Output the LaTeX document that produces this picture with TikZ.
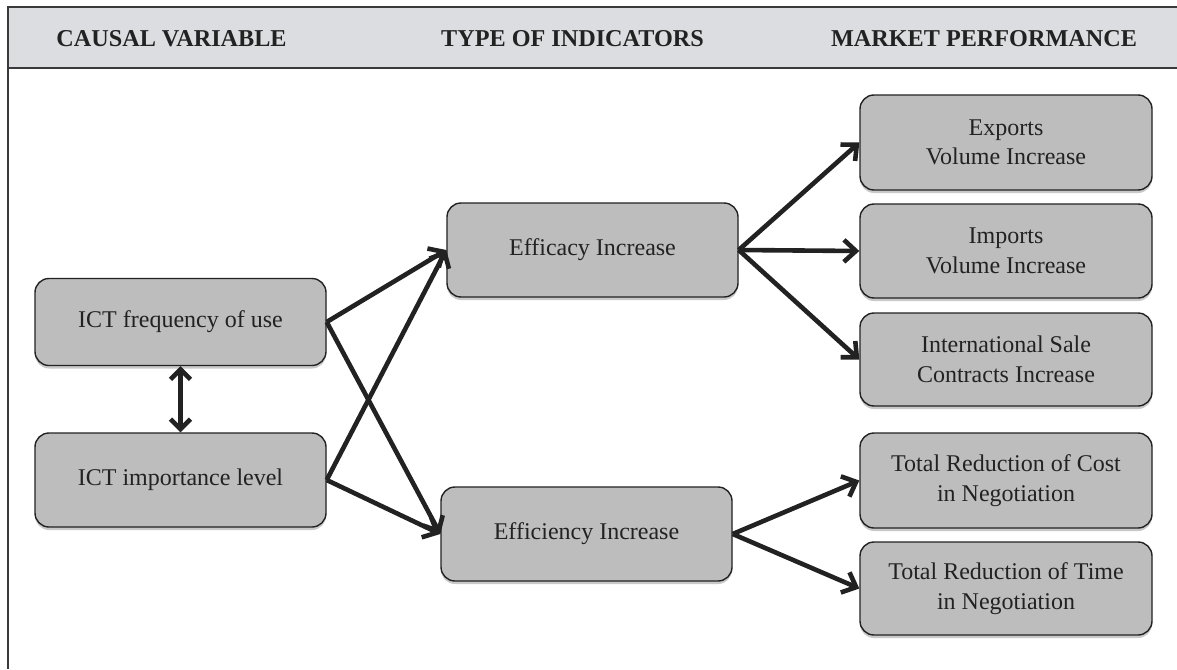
\documentclass[tikz,border=0pt]{standalone}
\usepackage{fontspec}
\setmainfont{Liberation Serif}
\usetikzlibrary{arrows.meta,shadows}
\definecolor{hdrfill}{HTML}{DCDDE0}
\definecolor{boxfill}{HTML}{BDBDBD}
\definecolor{ink}{HTML}{222222}
\definecolor{framecol}{HTML}{3A3A3A}
\begin{document}
\begin{tikzpicture}[x=1pt,y=-1pt,
  box/.style={draw=ink, line width=1.4pt, fill=boxfill, rounded corners=14pt,
    align=center, inner sep=0pt, text=ink,
    font=\fontsize{24}{29.5}\selectfont,
    drop shadow={shadow xshift=0pt, shadow yshift=-3pt, opacity=0.35, fill=black!60}},
  hdr/.style={font=\fontsize{24.2}{28}\selectfont\bfseries, text=ink, inner sep=0pt},
  conn/.style={draw=ink, line width=4.6pt, -{Straight Barb[length=12pt,width=22pt]}},
  dconn/.style={draw=ink, line width=4.6pt, {Straight Barb[length=10pt,width=20pt]}-{Straight Barb[length=10pt,width=20pt]}}
]
\useasboundingbox (0,0) rectangle (1177,669);
\fill[white] (0,0) rectangle (1177,669);
% header band and frame
\fill[hdrfill] (8,7) rectangle (1177,68);
\draw[framecol, line width=1.5pt] (1177,7) -- (8,7) -- (8,669);
\draw[framecol, line width=1.5pt] (8,68) -- (1177,68);
\node[hdr] (h1) at (171.5,39) {CAUSAL VARIABLE};
\node[hdr] (h2) at (572.5,39) {TYPE OF INDICATORS};
\node[hdr] (h3) at (984,39) {MARKET PERFORMANCE};
% boxes
\node[box, minimum width=291pt, minimum height=87pt] (freq) at (180.5,322) {ICT frequency of use};
\node[box, minimum width=291pt, minimum height=94pt] (imp) at (180.5,480) {ICT importance level};
\node[box, minimum width=291pt, minimum height=94pt] (efficacy) at (592.5,250) {Efficacy Increase};
\node[box, minimum width=291pt, minimum height=94pt] (efficiency) at (586.5,534) {Efficiency Increase};
\node[box, minimum width=292pt, minimum height=95pt] (exports) at (1006,142.5) {Exports\\Volume Increase};
\node[box, minimum width=292pt, minimum height=94pt] (imports) at (1006,251) {Imports\\Volume Increase};
\node[box, minimum width=292pt, minimum height=93pt] (intl) at (1006,359.5) {International Sale\\Contracts Increase};
\node[box, minimum width=292pt, minimum height=95pt] (cost) at (1006,480.5) {Total Reduction of Cost\\in Negotiation};
\node[box, minimum width=292pt, minimum height=93pt] (time) at (1006,588.5) {Total Reduction of Time\\in Negotiation};
% connectors
\draw[dconn] (freq.south) -- (imp.north);
\draw[conn] (freq.east) -- (efficacy.west);
\draw[conn] (freq.east) -- (efficiency.west);
\draw[conn] (imp.east) -- (efficacy.west);
\draw[conn] (imp.east) -- (efficiency.west);
\draw[conn] (efficacy.east) -- (exports.west);
\draw[conn] (efficacy.east) -- (imports.west);
\draw[conn] (efficacy.east) -- (intl.west);
\draw[conn] (efficiency.east) -- (cost.west);
\draw[conn] (efficiency.east) -- (time.west);
\end{tikzpicture}
\end{document}
